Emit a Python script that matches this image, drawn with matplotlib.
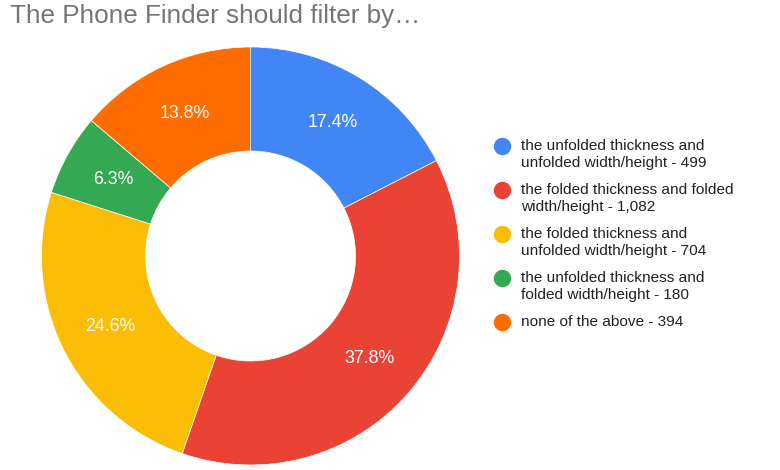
import matplotlib
matplotlib.use("Agg")
import matplotlib.pyplot as plt
from matplotlib.lines import Line2D

plt.rcParams['font.family'] = ['Liberation Sans', 'DejaVu Sans']

title = "The Phone Finder should filter by…"
categories = [
    "the unfolded thickness and\nunfolded width/height",
    "the folded thickness and folded\nwidth/height",
    "the folded thickness and\nunfolded width/height",
    "the unfolded thickness and\nfolded width/height",
    "none of the above",
]
values = [499, 1082, 704, 180, 394]
pct_labels = ["17.4%", "37.8%", "24.6%", "6.3%", "13.8%"]
colors = ["#4285F4", "#EA4335", "#FBBC04", "#34A853", "#FF6D01"]

W, H = 780, 470
fig = plt.figure(figsize=(W / 100, H / 100), dpi=100)

cx, cy, R = 250.5, 256, 209
ax = fig.add_axes([(cx - R) / W, (H - cy - R) / H, 2 * R / W, 2 * R / H])
inner = 105
width = (R - inner) / R
wedges, texts = ax.pie(
    values, colors=colors, startangle=90, counterclock=False,
    labels=pct_labels, labeldistance=(R + inner) / 2 / R,
    wedgeprops=dict(width=width, edgecolor="white", linewidth=0.5),
    textprops=dict(color="white", fontsize=12.8),
)
for t in texts:
    t.set_ha("center")
    t.set_va("center")
ax.set_aspect("equal")
ax.set_xlim(-1, 1)
ax.set_ylim(-1, 1)

fig.text(10 / W, 1 - 16 / H, title, fontsize=18.8, color="#757575", va="center", ha="left")

legend_y = [146, 190, 234, 278, 322]
for cat, val, col, y in zip(categories, values, colors, legend_y):
    fig.add_artist(Line2D([502 / W], [1 - y / H], marker="o", markersize=11.5,
                          color=col, linestyle="none", transform=fig.transFigure))
    lines = f"{cat} - {val:,}".split("\n")
    for i, ln in enumerate(lines):
        fig.text(521 / W, 1 - (y + i * 16.5) / H, ln, fontsize=11.1,
                 color="#222222", va="center", ha="left")

fig.savefig("out.png", dpi=100)
